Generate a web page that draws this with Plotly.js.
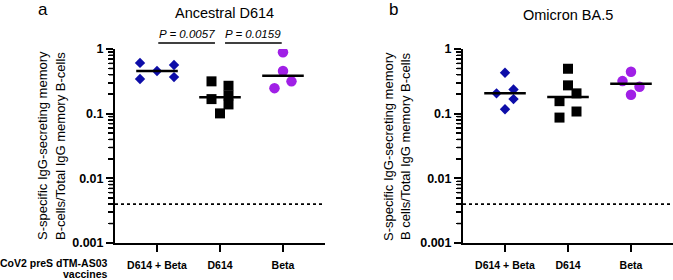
<!DOCTYPE html>
<html>
<head>
<meta charset="utf-8">
<script src="https://cdn.plot.ly/plotly-3.0.1.min.js"></script>
<style>html,body{margin:0;padding:0;background:#fff;}#chart{width:673px;height:280px;}</style>
</head>
<body>
<div id="chart"></div>
<script>
// ---- data ----
const categories = ['D614 + Beta', 'D614', 'Beta'];
const ancestralD614Beta = [0.456, 0.61, 0.565, 0.343, 0.368];
const ancestralD614 = [0.316, 0.27, 0.191, 0.168, 0.139, 0.101];
const ancestralBeta = [0.889, 0.456, 0.316, 0.248];
const omicronD614Beta = [0.429, 0.206, 0.237, 0.168, 0.117];
const omicronD614 = [0.495, 0.274, 0.206, 0.156, 0.108, 0.087];
const omicronBeta = [0.445, 0.319, 0.26, 0.196];
const detectionLimit = 0.004;
const pLabels = ['P = 0.0057', 'P = 0.0159'];
const panelTitles = ['Ancestral D614', 'Omicron BA.5'];
const yTickVals = [0.001, 0.01, 0.1, 1];
const yTickText = ['0.001', '0.01', '0.1', '1'];

// ---- layout helpers (horizontal dodge of overlapping dots, in half-steps) ----
const dodge = {
  aD614Beta: [0, -2, 2, -2, 2],
  aD614: [-1, 1, 1, -1, 1, 0],
  aBeta: [0, 0, 1, -1],
  oD614Beta: [0, -1, 1, 1, 0],
  oD614: [0, 0, 1, -1, 1, -1],
  oBeta: [0, -1, 1, 0]
};
const STEP = 0.135, HALF = 0.33;
const FONT = 'Liberation Sans, Arial, sans-serif';
const styles = [
  {symbol: 'diamond', size: 8, color: '#0d0da8'},
  {symbol: 'square', size: 10, color: '#000000'},
  {symbol: 'circle', size: 10.5, color: '#a020e6'}
];

function median(a) {
  const s = a.slice().sort((p, q) => p - q);
  const n = s.length;
  return n % 2 ? s[(n - 1) / 2] : (s[n / 2 - 1] + s[n / 2]) / 2;
}

const XR = [-0.667, 2.667];
const YR = [-3, 0];
const traces = [];

function addGroup(vals, slots, ci, xa, ya) {
  const st = styles[ci];
  traces.push({
    type: 'scatter', mode: 'markers', xaxis: xa, yaxis: ya,
    x: vals.map((v, i) => ci + slots[i] * STEP), y: vals,
    marker: {symbol: st.symbol, size: st.size, color: st.color, line: {width: 0}},
    hoverinfo: 'y', showlegend: false
  });
  const m = median(vals);
  traces.push({
    type: 'scatter', mode: 'lines', xaxis: xa, yaxis: ya,
    x: [ci - HALF, ci + HALF], y: [m, m],
    line: {color: '#000', width: 2.5}, hoverinfo: 'skip', showlegend: false
  });
}
addGroup(ancestralD614Beta, dodge.aD614Beta, 0, 'x', 'y');
addGroup(ancestralD614, dodge.aD614, 1, 'x', 'y');
addGroup(ancestralBeta, dodge.aBeta, 2, 'x', 'y');
addGroup(omicronD614Beta, dodge.oD614Beta, 0, 'x2', 'y2');
addGroup(omicronD614, dodge.oD614, 1, 'x2', 'y2');
addGroup(omicronBeta, dodge.oBeta, 2, 'x2', 'y2');

['x', 'x2'].forEach((xa, k) => {
  traces.push({
    type: 'scatter', mode: 'lines', xaxis: xa, yaxis: k ? 'y2' : 'y',
    x: XR, y: [detectionLimit, detectionLimit],
    line: {color: '#000', width: 1.8, dash: 'dot'}, hoverinfo: 'skip', showlegend: false
  });
});

const W = 673, H = 280;
const px = v => v / W, py = v => (H - v) / H;
const YDOM = [py(243), py(49)];
const AXIS_X = [115, 463];

function xAxis(domain, anchor) {
  return {
    domain: domain, anchor: anchor, range: XR, fixedrange: true,
    tickmode: 'array', tickvals: [0, 1, 2], ticktext: categories,
    ticks: 'outside', ticklen: 7, tickwidth: 2, tickcolor: '#000',
    ticklabelstandoff: 4,
    showline: true, linewidth: 2, linecolor: '#000',
    showgrid: false, zeroline: false,
    tickfont: {family: FONT, size: 10.5, color: '#000', weight: 'bold'}
  };
}
function yAxis(anchor) {
  return {
    domain: YDOM, anchor: anchor, type: 'log', range: YR, fixedrange: true,
    tickmode: 'array', tickvals: yTickVals, ticktext: yTickText,
    ticks: 'outside', ticklen: 7, tickwidth: 2, tickcolor: '#000',
    minor: {dtick: 'D1', ticks: 'outside', ticklen: 5, tickwidth: 1.5, tickcolor: '#000', showgrid: false},
    showline: true, linewidth: 2, linecolor: '#000',
    showgrid: false, zeroline: false,
    tickfont: {family: FONT, size: 12.5, color: '#000', weight: 'bold'}
  };
}

const shapes = [];
// minor ticks (2..9 within each decade) of the log y axes
for (let e = YR[0]; e < YR[1]; e++) {
  for (let d = 2; d <= 9; d++) {
    const frac = (Math.log10(d * Math.pow(10, e)) - YR[0]) / (YR[1] - YR[0]);
    const yp = YDOM[0] + frac * (YDOM[1] - YDOM[0]);
    AXIS_X.forEach(ax => {
      shapes.push({type: 'line', xref: 'paper', yref: 'paper', layer: 'above',
        x0: px(ax - 6), x1: px(ax), y0: yp, y1: yp,
        line: {color: '#000', width: 1.5}});
    });
  }
}

const ann = [];
function txt(text, x, y, opts) {
  ann.push(Object.assign({
    text: text, x: px(x), y: py(y), xref: 'paper', yref: 'paper',
    showarrow: false, xanchor: 'center', yanchor: 'middle',
    font: {family: FONT, size: 12, color: '#000'}
  }, opts || {}));
}
txt('a', 43, 10, {font: {family: FONT, size: 17, color: '#000'}});
txt('b', 393, 10, {font: {family: FONT, size: 17, color: '#000'}});
txt(panelTitles[0], 224, 13, {font: {family: FONT, size: 14.5, color: '#000'}});
txt(panelTitles[1], 568, 15, {font: {family: FONT, size: 14.5, color: '#000'}});
// y titles
txt('S-specific IgG-secreting memory', 43, 146, {textangle: -90, font: {family: FONT, size: 13, color: '#000'}});
txt('B-cells/Total IgG memory B-cells', 61, 146, {textangle: -90, font: {family: FONT, size: 13, color: '#000'}});
txt('S-specific IgG-secreting memory', 389, 146, {textangle: -90, font: {family: FONT, size: 13, color: '#000'}});
txt('B cells/Total IgG memory B-cells', 406, 146, {textangle: -90, font: {family: FONT, size: 13, color: '#000'}});
// vaccine label
txt('CoV2 preS dTM-AS03', 110, 263, {xanchor: 'right', font: {family: FONT, size: 10.5, color: '#000', weight: 'bold'}});
txt('vaccines', 110, 274, {xanchor: 'right', font: {family: FONT, size: 10.5, color: '#000', weight: 'bold'}});
// p-values
const brackets = [[0, 1], [1, 2]];
brackets.forEach((b, i) => {
  const xs = i === 0 ? [b[0] + 0.02, b[1] - 0.08] : [b[0] + 0.08, b[1] - 0.02];
  shapes.push({type: 'line', xref: 'x', yref: 'paper', x0: xs[0], x1: xs[1], y0: py(43), y1: py(43),
    line: {color: '#000', width: 1.6}});
  ann.push({text: '<i>' + pLabels[i] + '</i>', x: (xs[0] + xs[1]) / 2, y: py(34), xref: 'x', yref: 'paper',
    showarrow: false, xanchor: 'center', yanchor: 'middle', font: {family: FONT, size: 11.5, color: '#000'}});
});

const layout = {
  width: W, height: H, autosize: false,
  margin: {l: 0, r: 0, t: 0, b: 0, pad: 0},
  paper_bgcolor: '#fff', plot_bgcolor: '#fff',
  showlegend: false,
  xaxis: xAxis([px(AXIS_X[0]), px(325)], 'y'),
  yaxis: yAxis('x'),
  xaxis2: xAxis([px(AXIS_X[1]), 1], 'y2'),
  yaxis2: yAxis('x2'),
  annotations: ann, shapes: shapes
};
Plotly.newPlot('chart', traces, layout, {displayModeBar: false, staticPlot: true});
</script>
</body>
</html>
